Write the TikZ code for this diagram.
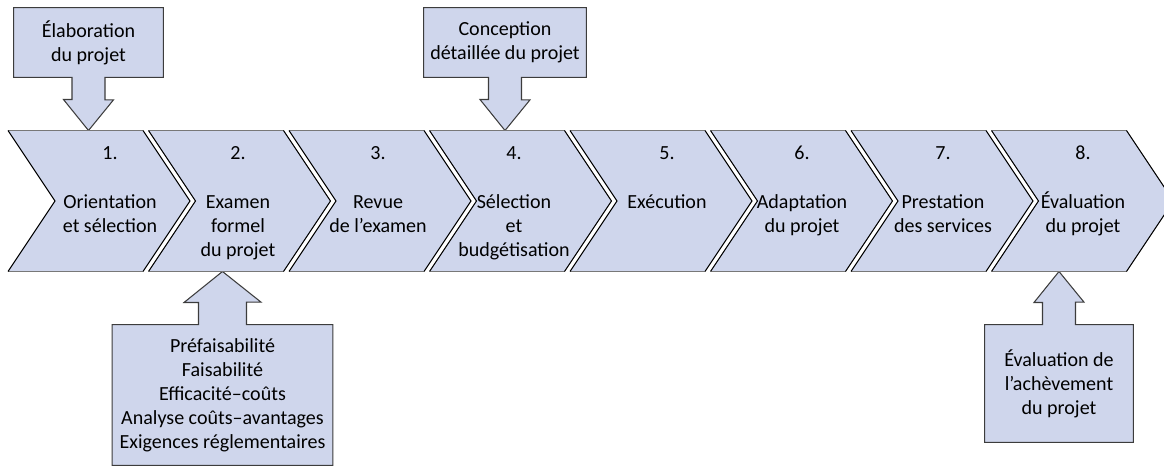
\documentclass[tikz,border=0pt]{standalone}
\usepackage{fontspec}
\setmainfont{Carlito}
\usepackage{xcolor}
\definecolor{lavender-200}{RGB}{207,214,236}
\definecolor{gray-800}{RGB}{60,60,60}
\definecolor{gray-500}{RGB}{120,120,120}
\usepackage{tikz}
\usetikzlibrary{positioning,backgrounds}

\begin{document}
\begin{tikzpicture}[
    input box/.style={
        minimum width=#1,
        inner sep=0pt,
        font=\fontsize{11.4}{13.7}\selectfont,
        align=center
    },
    outline/.style={
        draw=gray-800,
        line width=0.6pt,
        fill=lavender-200
    },
    stage fill/.style={fill=lavender-200},
    stage edge/.style={draw=black, line width=0.6pt},
    stage rim/.style={draw=gray-500, line width=0.6pt},
    stage text/.style={
        font=\fontsize{11.4}{13.7}\selectfont,
        align=center,
        inner sep=0pt
    }
]

\useasboundingbox (0,0) rectangle (23.28,9.32);
\clip (0,0) rectangle (23.28,9.32);

% top and bottom lines of the chevron band
\coordinate (band top) at (0,6.71);
\coordinate (band bottom) at (0,3.89);

% === CHEVRONS ===
\foreach \i/\xt/\lab in {
    1/2.20/{Orientation\\et sélection},
    2/4.76/{Examen\\formel\\du projet},
    3/7.56/{Revue\\de l’examen},
    4/10.28/{Sélection\\et\\budgétisation},
    5/13.34/{Exécution},
    6/16.04/{Adaptation\\du projet},
    7/18.86/{Prestation\\des services},
    8/21.66/{Évaluation\\du projet}}{
    \pgfmathsetmacro{\x}{0.16+2.81*(\i-1)}
    \fill[stage fill] (\x,6.71) -- ++(2.70,0) -- ++(0.94,-1.41) -- ++(-0.94,-1.41)
        -- ++(-2.70,0) -- ++(0.94,1.41) -- cycle;
    \draw[stage rim] (\x,6.71) -- ++(2.70,0);
    \draw[stage rim] (\x,3.89) -- ++(2.70,0);
    \draw[stage edge] (\x,6.71) -- ++(0.94,-1.41) -- ++(-0.94,-1.41);
    \draw[stage edge] (\x+2.70,6.71) -- ++(0.94,-1.41) -- ++(-0.94,-1.41);
    \node[stage text, anchor=base] (num\i) at (\xt,6.12) {\i.};
    % first line held at strut height so every label starts on the same baseline
    \node[stage text, anchor=north] (lab\i) at (\xt,5.50) {\strut\lab};
}

% === INPUT BOXES ===
\node[input box=2.98cm, minimum height=1.38cm] (elab) at (1.77,8.47) {
    Élaboration\\du projet
};

\node[input box=3.24cm, minimum height=1.38cm] (design) at (10.10,8.47) {
    Conception\\détaillée du projet
};

\node[input box=4.40cm, minimum height=2.80cm] (study) at (4.45,1.42) {
    Préfaisabilité\\Faisabilité\\Efficacité–coûts\\Analyse coûts–avantages\\Exigences réglementaires
};

\node[input box=2.96cm, minimum height=2.34cm] (closing) at (21.18,1.65) {
    Évaluation de\\l’achèvement\\du projet
};

% === BLOCK ARROWS (box and arrow in one outline) ===
\begin{scope}[on background layer]
% Elaboration down to stage 1
\draw[outline] (elab.north west) -- (elab.north east) -- (elab.south east)
    -- ([xshift=0.33cm]elab.south) -- ++(0,-0.45) -- ++(0.17,0)
    -- (elab.south |- band top) -- ++(-0.50,0.62) -- ++(0.17,0)
    -- ([xshift=-0.33cm]elab.south) -- (elab.south west) -- cycle;

% Detailed design down to stage 4
\draw[outline] (design.north west) -- (design.north east) -- (design.south east)
    -- ([xshift=0.33cm]design.south) -- ++(0,-0.45) -- ++(0.17,0)
    -- (design.south |- band top) -- ++(-0.50,0.62) -- ++(0.17,0)
    -- ([xshift=-0.33cm]design.south) -- (design.south west) -- cycle;

% Studies up to stage 2
\draw[outline] (study.south west) -- (study.south east) -- (study.north east)
    -- ([xshift=0.48cm]study.north) -- ++(0,0.45) -- ++(0.29,0)
    -- (study.north |- band bottom) -- ++(-0.77,-0.62) -- ++(0.29,0)
    -- ([xshift=-0.48cm]study.north) -- (study.north west) -- cycle;

% Completion review up to stage 8
\draw[outline] (closing.south west) -- (closing.south east) -- (closing.north east)
    -- ([xshift=0.33cm]closing.north) -- ++(0,0.45) -- ++(0.17,0)
    -- (closing.north |- band bottom) -- ++(-0.50,-0.62) -- ++(0.17,0)
    -- ([xshift=-0.33cm]closing.north) -- (closing.north west) -- cycle;
\end{scope}

\end{tikzpicture}
\end{document}
